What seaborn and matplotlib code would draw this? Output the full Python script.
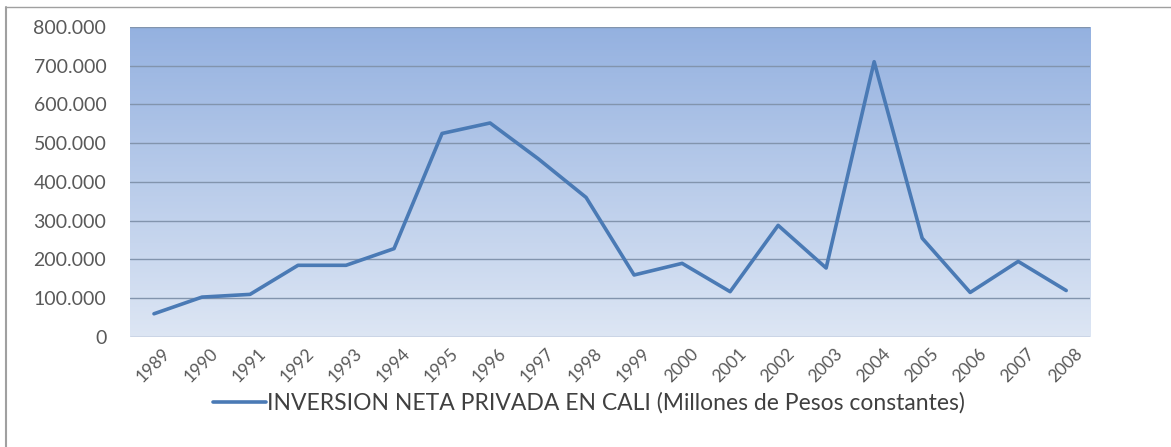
import numpy as np
import pandas as pd
import matplotlib
matplotlib.use("Agg")
import matplotlib.pyplot as plt
import matplotlib.ticker as mticker
import matplotlib.transforms as mtrans
from matplotlib.colors import LinearSegmentedColormap
import seaborn as sns

# --- Datos ---
anios = ["1989", "1990", "1991", "1992", "1993", "1994", "1995", "1996", "1997", "1998",
         "1999", "2000", "2001", "2002", "2003", "2004", "2005", "2006", "2007", "2008"]
inversion = [60000, 103000, 110000, 185000, 185000, 228000, 525000, 552000, 460000, 360000,
             160000, 190000, 117000, 288000, 178000, 710000, 255000, 115000, 195000, 120000]
serie = "INVERSION NETA PRIVADA EN CALI (Millones de Pesos constantes)"

df = pd.DataFrame({"anio": anios, "valor": inversion})

sns.set_style("white")
plt.rcParams["font.family"] = ["Lato", "DejaVu Sans"]

fig = plt.figure(figsize=(11.71, 4.47), dpi=100)
ax = fig.add_axes([0.111, 0.246, 0.82, 0.694])

# --- Fondo degradado ---
grad = LinearSegmentedColormap.from_list("fondo", ["#dde6f4", "#94b1e0"])
ax.imshow(np.linspace(0, 1, 256).reshape(-1, 1), cmap=grad, aspect="auto",
          extent=(-0.5, 19.5, 0, 800000), origin="lower", zorder=0)

sns.lineplot(data=df, x="anio", y="valor", ax=ax, color="#4a7ab5", linewidth=2.6,
             label=serie, zorder=3, sort=False)

ax.set_xlim(-0.5, 19.5)
ax.set_ylim(0, 800000)
ax.set_yticks(range(0, 800001, 100000))
ax.yaxis.set_major_formatter(mticker.FuncFormatter(lambda v, p: f"{int(v):,}".replace(",", ".")))
ax.grid(axis="y", color="#8294ad", linewidth=1.0, zorder=1)
for s in ax.spines.values():
    s.set_visible(False)
ax.set_xlabel("")
ax.set_ylabel("")
ax.tick_params(axis="y", labelsize=14, colors="#595959", length=0, pad=17)
ax.tick_params(axis="x", labelsize=12.5, colors="#595959", length=0, pad=6)
desplaza = mtrans.ScaledTranslation(8 / 100, 0, fig.dpi_scale_trans)
for lbl in ax.get_xticklabels():
    lbl.set_rotation(45)
    lbl.set_ha("right")
    lbl.set_rotation_mode("anchor")
    lbl.set_transform(lbl.get_transform() + desplaza)

ax.legend(loc="center", bbox_to_anchor=(0.503, 0.098), bbox_transform=fig.transFigure,
          frameon=False, fontsize=16.5, handlelength=2.3, handletextpad=0.05,
          labelcolor="#404040")

# --- Marco ---
fig.add_artist(plt.Line2D([0.005, 0.005], [0.0, 0.985], transform=fig.transFigure,
                          color="#a0a0a0", linewidth=1.5))
fig.add_artist(plt.Line2D([0.005, 1.0], [0.985, 0.985], transform=fig.transFigure,
                          color="#a0a0a0", linewidth=1.0))

fig.savefig("out.png", dpi=100)
